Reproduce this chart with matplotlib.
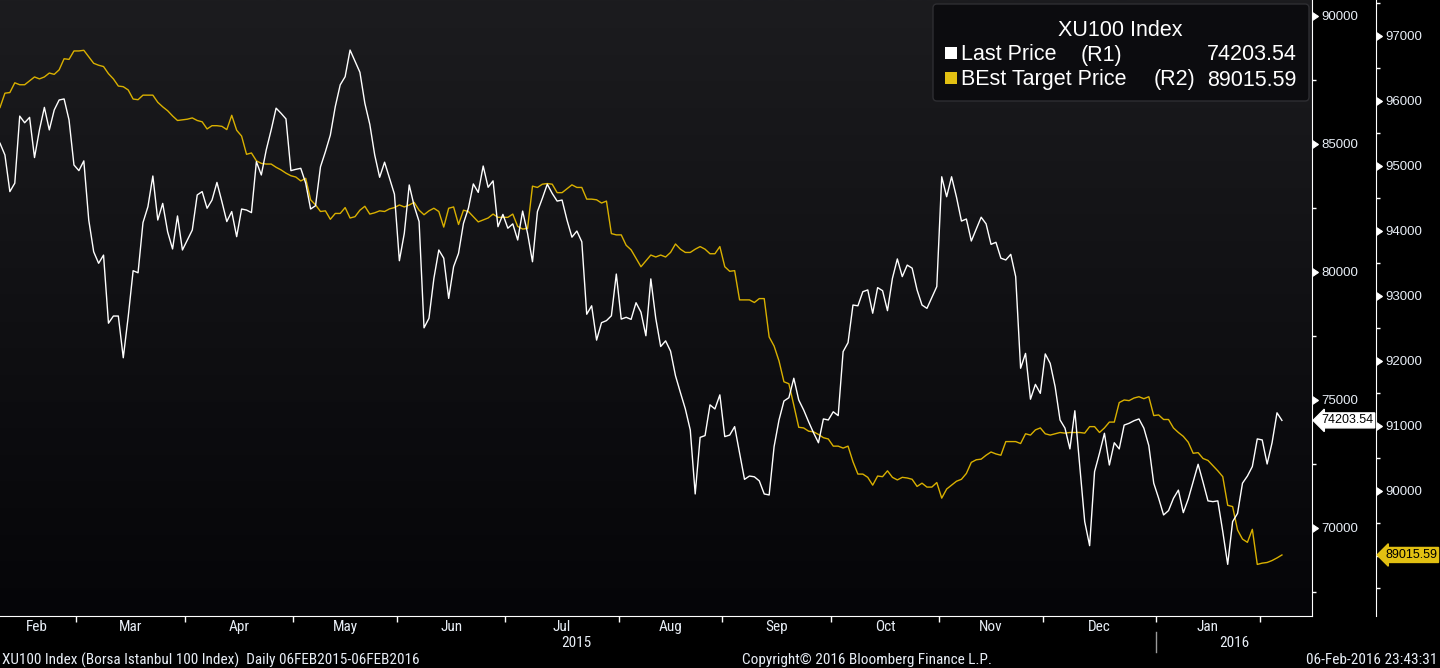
import matplotlib
matplotlib.use("Agg")
import matplotlib.pyplot as plt
import numpy as np
import pandas as pd
from matplotlib.colors import LinearSegmentedColormap
from matplotlib.patches import FancyBboxPatch, Rectangle
from matplotlib.ticker import MultipleLocator, FixedLocator, StrMethodFormatter, NullFormatter
from matplotlib.transforms import Affine2D
from matplotlib import font_manager

plt.rcParams["font.family"] = "Liberation Sans"

# trading days shown on the chart
dates = pd.bdate_range("2015-02-06", "2016-02-05")

# XU100 Index, Last Price (inner right axis, R1)
last_price = [
    85030, 84570, 83140, 83470, 86090, 85830, 86040, 84470, 85550, 86430,
    85550, 86330, 86720, 86760, 85940, 84180, 83960, 84340, 82030, 80790,
    80340, 80660, 78000, 78280, 78280, 76650, 78250, 80050, 79970, 81930,
    82550, 83750, 82030, 82680, 81570, 80900, 82190, 80860, 81250, 81640,
    83010, 83140, 82490, 82810, 83500, 82750, 81970, 82360, 81380, 82460,
    82420, 82320, 84310, 83790, 84770, 85550, 86400, 86200, 85980, 83960,
    84010, 84050, 83470, 82460, 82590, 84110, 84700, 85350, 86460, 87310,
    87630, 88670, 88240, 87800, 86590, 85770, 84570, 83700, 84290, 83660,
    83040, 80440, 81510, 83400, 82580, 81970, 77820, 78190, 79750, 80860,
    80540, 78970, 80210, 80730, 81900, 82490, 83440, 83110, 84140, 83310,
    83560, 81770, 82250, 81710, 81880, 81250, 82380, 81510, 80400, 82360,
    82880, 83430, 83070, 82770, 82810, 82030, 81360, 81600, 81180, 78350,
    78680, 77340, 78020, 78100, 78290, 79920, 78160, 78230, 78150, 78800,
    78430, 77510, 79730, 78190, 77090, 77310, 76910, 75950, 75290, 74650,
    73830, 71330, 73540, 73610, 74810, 74650, 75200, 73570, 73630, 73960,
    72920, 71900, 72030, 72000, 71840, 71330, 71290, 73180, 74220, 74960,
    75090, 75850, 75000, 74610, 74150, 73720, 73330, 74260, 74220, 74540,
    74390, 76890, 77240, 78710, 78680, 79230, 79300, 78390, 79390, 79270,
    78490, 79750, 80510, 79820, 80270, 80150, 79300, 78710, 78580, 79000,
    79430, 83720, 82940, 83720, 82920, 81990, 82070, 81210, 81680, 82140,
    81880, 81080, 81160, 80540, 80470, 80690, 79820, 76240, 76820, 75030,
    75610, 75260, 76800, 76430, 75520, 74220, 73900, 73090, 74580, 72400,
    70250, 69310, 72200, 72920, 73700, 72460, 73330, 73090, 74020, 74090,
    74190, 74260, 73900, 73220, 71750, 71160, 70510, 70680, 71160, 71480,
    70600, 71130, 71810, 72490, 71790, 71060, 71030, 71060, 69860, 68580,
    70250, 70570, 71750, 72030, 72400, 73480, 73440, 72500, 73330, 74500,
    74203.54,
]

# BEst Target Price (outer right axis, R2)
target_price = [
    95900, 96120, 96130, 96280, 96250, 96250, 96310, 96370, 96340, 96370,
    96430, 96410, 96480, 96650, 96640, 96770, 96770, 96780, 96680, 96580,
    96550, 96530, 96420, 96340, 96230, 96220, 96170, 96030, 96020, 96090,
    96090, 96090, 95980, 95910, 95850, 95770, 95700, 95710, 95720, 95740,
    95700, 95680, 95570, 95620, 95620, 95610, 95560, 95780, 95550, 95460,
    95180, 95200, 95080, 95040, 95030, 95030, 94980, 94940, 94890, 94850,
    94830, 94770, 94810, 94480, 94400, 94300, 94310, 94180, 94270, 94270,
    94360, 94200, 94220, 94320, 94380, 94260, 94280, 94310, 94300, 94340,
    94360, 94400, 94370, 94400, 94440, 94320, 94250, 94310, 94350, 94300,
    94060, 94350, 94370, 94100, 94320, 94300, 94220, 94140, 94170, 94200,
    94260, 94210, 94210, 94210, 94260, 94070, 94030, 94040, 94690, 94670,
    94720, 94730, 94720, 94590, 94590, 94650, 94710, 94670, 94670, 94490,
    94490, 94480, 94430, 94460, 93960, 93940, 93940, 93780, 93710, 93580,
    93450, 93540, 93630, 93600, 93630, 93600, 93670, 93800, 93720, 93670,
    93670, 93720, 93760, 93720, 93650, 93650, 93760, 93450, 93380, 93390,
    92940, 92940, 92940, 92900, 92960, 92960, 92370, 92230, 92000, 91680,
    91650, 91320, 90980, 90970, 90920, 90910, 90870, 90820, 90800, 90690,
    90690, 90660, 90690, 90450, 90260, 90260, 90210, 90090, 90230, 90220,
    90310, 90210, 90170, 90210, 90200, 90180, 90070, 90120, 90060, 90060,
    90130, 89890, 90030, 90090, 90150, 90180, 90270, 90440, 90480, 90490,
    90550, 90600, 90570, 90550, 90760, 90760, 90760, 90730, 90880, 90860,
    90940, 90970, 90880, 90860, 90880, 90900, 90890, 90900, 90900, 90900,
    90890, 90990, 90990, 90900, 90970, 91060, 91060, 91360, 91400, 91390,
    91430, 91450, 91420, 91450, 91160, 91170, 91100, 91100, 90970, 90900,
    90840, 90750, 90580, 90590, 90500, 90470, 90390, 90310, 90220, 89780,
    89760, 89400, 89260, 89210, 89410, 88870, 88890, 88900, 88930, 88970,
    89015.59,
]

r1_ticks = [70000, 75000, 80000, 85000, 90000]
r2_ticks = [90000, 91000, 92000, 93000, 94000, 95000, 96000, 97000]

WHITE = "#ffffff"
GOLD = "#d9b000"
TAG_GOLD = "#e2c012"
LABEL = "#e8eef6"
FONT = "Liberation Sans"

# a condensed face for the axis / footer text if one is installed
NARROW = None
for cand in ["Liberation Sans Narrow", "DejaVu Sans Condensed", "Roboto Condensed",
             "Open Sans Condensed", "Noto Sans Display"]:
    try:
        font_manager.findfont(cand, fallback_to_default=False)
        NARROW = cand
        break
    except Exception:
        pass
if NARROW is None:
    NARROW = FONT
    SMALL = 10
else:
    SMALL = 11

x = np.arange(len(dates))

fig = plt.figure(figsize=(14.4, 6.68), dpi=100, facecolor="black")
# pixel coordinates (origin top-left) for the decorations
px = Affine2D().scale(1 / 100, -1 / 100).translate(0, 6.68) + fig.dpi_scale_trans

ax = fig.add_axes([0, 1 - 616 / 668, 1312 / 1440, 616 / 668])
ax.set_facecolor("black")
bg = LinearSegmentedColormap.from_list("bg", ["#050508", "#1c1c1f"])
ax.imshow(np.linspace(1, 0, 256).reshape(-1, 1), cmap=bg, aspect="auto",
          extent=(0, 1, 0, 1), transform=ax.transAxes, zorder=0)

ax2 = ax.twinx()

# R2: BEst Target Price
ax.plot(x, target_price, color=GOLD, lw=1.0, zorder=2)
# R1: last price
ax2.plot(x, last_price, color=WHITE, lw=1.0, zorder=3)

ax.set_xlim(0, 266.1)
ax.set_ylim(88076.6, 97553.8)
ax2.set_ylim(66562.5, 90625)

# spines
for a in (ax, ax2):
    for s in a.spines.values():
        s.set_visible(False)
ax2.spines["right"].set_visible(True)
ax2.spines["right"].set_color(WHITE)
ax2.spines["bottom"].set_visible(True)
ax2.spines["bottom"].set_color(WHITE)
ax.spines["right"].set_visible(True)
ax.spines["right"].set_color(WHITE)
ax.spines["right"].set_position(("axes", 1376 / 1312))

# y axes
ax.yaxis.tick_right()
ax.yaxis.set_major_locator(FixedLocator(r2_ticks))
ax.yaxis.set_minor_locator(MultipleLocator(500))
ax.yaxis.set_major_formatter(StrMethodFormatter("{x:.0f}"))
ax2.yaxis.set_major_locator(FixedLocator(r1_ticks))
ax2.yaxis.set_minor_locator(MultipleLocator(2500))
ax2.yaxis.set_major_formatter(StrMethodFormatter("{x:.0f}"))
for a in (ax, ax2):
    a.tick_params(axis="y", which="major", right=True, left=False, length=5,
                  pad=1.5, colors=WHITE, labelcolor=LABEL, labelsize=9.5)
    a.tick_params(axis="y", which="minor", right=True, left=False, length=3,
                  width=1, colors=WHITE)

# x axis: month boundaries as ticks, month names centred between them
month = dates.month
bounds = [i - 0.5 for i in range(1, len(dates)) if month[i] != month[i - 1]]
starts = [-0.5] + bounds
ends = bounds + [ax.get_xlim()[1]]
centers = [(s + e) / 2 for s, e in zip(starts[:-1], ends[:-1])]
names = [dates[int(s + 0.5)].strftime("%b") for s in starts[:-1]]
ax.xaxis.set_major_locator(FixedLocator(bounds))
ax.xaxis.set_major_formatter(NullFormatter())
ax.xaxis.set_minor_locator(FixedLocator(centers))
ax.set_xticklabels(names, minor=True, fontfamily=NARROW)
ax.tick_params(axis="x", which="major", length=4, width=1, colors=WHITE)
ax.tick_params(axis="x", which="minor", length=0, pad=3, labelcolor=LABEL,
               labelsize=SMALL)

# year labels and separator
year = dates.year
yb = [i - 0.5 for i in range(1, len(dates)) if year[i] != year[i - 1]]
ys = [-0.5] + yb
ye = yb + [ax.get_xlim()[1]]
for s, e in zip(ys, ye):
    ax.text((s + e) / 2, -0.044, str(dates[int(s + 0.5)].year),
            transform=ax.get_xaxis_transform(), ha="center", va="center",
            color=LABEL, fontsize=SMALL, family=NARROW, clip_on=False)
for b in yb:
    ax.plot([b, b], [-0.026, -0.058], transform=ax.get_xaxis_transform(),
            color="#9a9a9a", lw=1, clip_on=False)

# triangle markers on the major y ticks
for a in (ax, ax2):
    for t in a.yaxis.get_major_ticks():
        t.tick2line.set_marker(9)
        t.tick2line.set_markersize(5.5)
        t.tick2line.set_markerfacecolor(WHITE)
        t.tick2line.set_markeredgecolor(WHITE)

# last value tags
ax2.annotate(f"{last_price[-1]:.2f}", xy=(1.0, last_price[-1]),
             xycoords=("axes fraction", "data"), xytext=(9, 0),
             textcoords="offset pixels", ha="left", va="center",
             fontsize=9, color="black", annotation_clip=False,
             bbox=dict(boxstyle="larrow,pad=0.12", fc=WHITE, ec=WHITE))
ax.annotate(f"{target_price[-1]:.2f}", xy=(1376 / 1312, target_price[-1]),
            xycoords=("axes fraction", "data"), xytext=(9, 0),
            textcoords="offset pixels", ha="left", va="center",
            fontsize=9, color="black", annotation_clip=False,
            bbox=dict(boxstyle="larrow,pad=0.12", fc=TAG_GOLD, ec=TAG_GOLD))

# legend box
box = FancyBboxPatch((933, 4), 376, 97, boxstyle="round,pad=0,rounding_size=4",
                     transform=px, fc="#0c0c0f", ec="#2e2e32", lw=1, zorder=5)
fig.add_artist(box)
fig.text(1120, 36, "XU100 Index", transform=px, ha="center", va="baseline",
         color=WHITE, fontsize=15.5, zorder=6)
rows = [("Last Price", "(R1)", 1081, last_price[-1], WHITE, 60.5),
        ("BEst Target Price", "(R2)", 1154, target_price[-1], TAG_GOLD, 85.5)]
for name, tag, tag_x, val, col, base in rows:
    fig.add_artist(Rectangle((945, base - 14), 12, 12, transform=px, fc=col,
                             ec="none", zorder=6))
    fig.text(961, base, name, transform=px, ha="left", va="baseline",
             color=WHITE, fontsize=15.5, zorder=6)
    fig.text(tag_x, base, tag, transform=px, ha="left", va="baseline",
             color=WHITE, fontsize=15.5, zorder=6)
    fig.text(1297, base, f"{val:.2f}", transform=px, ha="right",
             va="baseline", color=WHITE, fontsize=15.5, zorder=6)

# footer
fig.text(2, 660, "XU100 Index (Borsa Istanbul 100 Index)  Daily 06FEB2015-06FEB2016",
         transform=px, ha="left", va="center", color=LABEL, fontsize=SMALL,
         family=NARROW)
fig.text(742, 660, "Copyright\u00a9 2016 Bloomberg Finance L.P.", transform=px,
         ha="left", va="center", color=LABEL, fontsize=SMALL, family=NARROW)
fig.text(1437, 660, "06-Feb-2016 23:43:31", transform=px, ha="right",
         va="center", color=LABEL, fontsize=SMALL, family=NARROW)

fig.savefig("out.png", dpi=100, facecolor="black")
